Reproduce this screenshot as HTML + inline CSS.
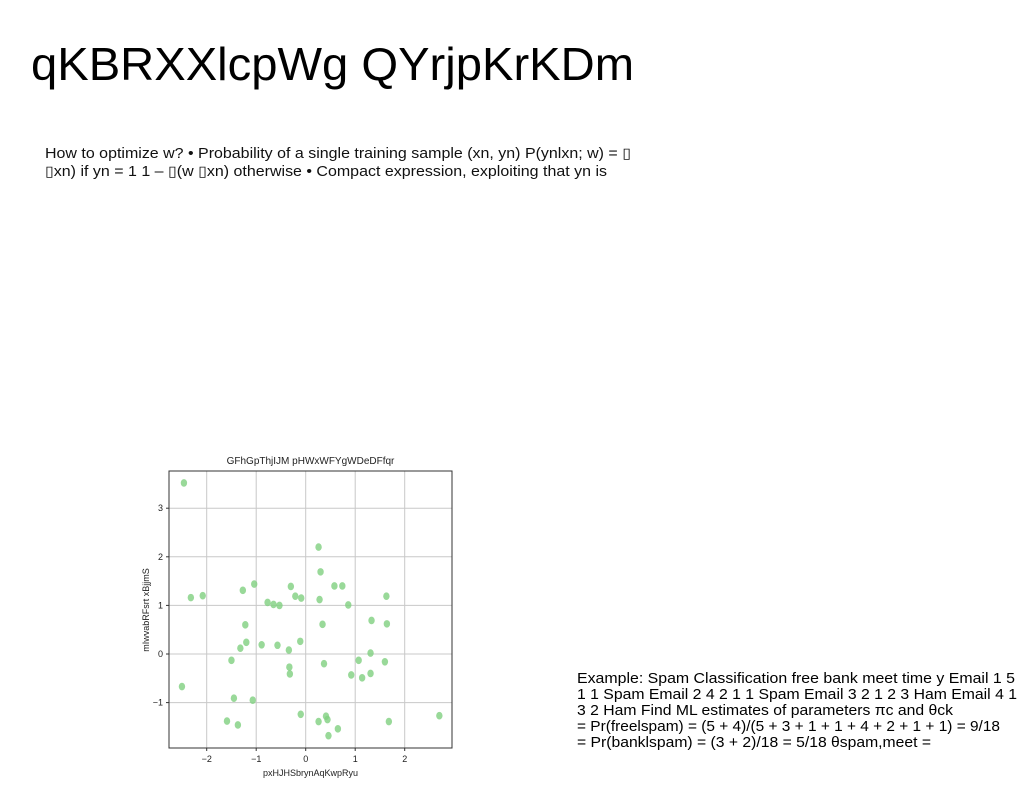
<!DOCTYPE html>
<html><head><meta charset="utf-8"><style>
html,body{margin:0;padding:0;background:#fff;}
svg{display:block;font-family:"Liberation Sans",sans-serif;}
</style></head><body>
<svg id="page" width="1024" height="788" viewBox="0 0 1024 788">
<text x="31" y="80" font-size="46" fill="#000" textLength="603" lengthAdjust="spacingAndGlyphs">qKBRXXlcpWg QYrjpKrKDm</text>
<g font-size="14.5" fill="#111">
<text x="45" y="158" textLength="586" lengthAdjust="spacingAndGlyphs">How to optimize w? • Probability of a single training sample (xn, yn) P(ynlxn; w) = ▯</text>
<text x="45" y="176" textLength="562" lengthAdjust="spacingAndGlyphs">▯xn) if yn = 1 1 – ▯(w ▯xn) otherwise • Compact expression, exploiting that yn is</text>
</g>
<g font-size="14.5" fill="#000">
<text x="577" y="683" textLength="438" lengthAdjust="spacingAndGlyphs">Example: Spam Classification free bank meet time y Email 1 5</text>
<text x="577" y="699" textLength="440" lengthAdjust="spacingAndGlyphs">1 1 Spam Email 2 4 2 1 1 Spam Email 3 2 1 2 3 Ham Email 4 1</text>
<text x="577" y="715" textLength="376" lengthAdjust="spacingAndGlyphs">3 2 Ham Find ML estimates of parameters πc and θck</text>
<text x="577" y="731" textLength="423" lengthAdjust="spacingAndGlyphs">= Pr(freelspam) = (5 + 4)/(5 + 3 + 1 + 1 + 4 + 2 + 1 + 1) = 9/18</text>
<text x="577" y="747" textLength="354" lengthAdjust="spacingAndGlyphs">= Pr(banklspam) = (3 + 2)/18 = 5/18 θspam,meet =</text>
</g>
<g id="chart"></g>
</svg>
<script>
const xs=[-2.46,-2.32,-2.08,-2.50,-1.27,-1.04,-1.22,-1.20,-1.32,-0.89,-1.50,-1.45,-1.07,-1.59,-1.37,-0.77,-0.65,-0.53,-0.30,-0.21,-0.09,-0.57,-0.34,-0.11,-0.33,-0.32,-0.10,0.26,0.30,0.28,0.58,0.74,0.86,0.34,0.37,0.26,0.41,0.44,0.46,0.65,0.92,1.07,1.14,1.31,1.31,1.33,1.63,1.64,1.60,1.68,2.70];
const ys=[3.52,1.16,1.20,-0.67,1.31,1.44,0.60,0.24,0.12,0.19,-0.13,-0.91,-0.95,-1.38,-1.46,1.06,1.02,1.00,1.39,1.19,1.15,0.18,0.08,0.26,-0.27,-0.41,-1.24,2.20,1.69,1.12,1.40,1.40,1.01,0.61,-0.20,-1.39,-1.28,-1.35,-1.68,-1.54,-0.43,-0.13,-0.49,0.02,-0.40,0.69,1.19,0.62,-0.16,-1.39,-1.27];
const xTicks=[-2,-1,0,1,2];
const yTicks=[-1,0,1,2,3];
const xTickLabels=["\u22122","\u22121","0","1","2"];
const yTickLabels=["\u22121","0","1","2","3"];
const NS="http://www.w3.org/2000/svg";
const g=document.getElementById('chart');
const L=169,R=452,T=471,B=748;
const sx=v=>305.7+v*49.5;
const sy=v=>654-v*48.6;
function mk(t,a){const e=document.createElementNS(NS,t);for(const k in a)e.setAttribute(k,a[k]);g.appendChild(e);return e;}
xTicks.forEach((v,i)=>{
 const l=mk('line',{x1:sx(v),x2:sx(v),y1:T,y2:B,stroke:'#c8c8c8','stroke-width':1});
 
 
 mk('line',{x1:sx(v),x2:sx(v),y1:B,y2:B+3,stroke:'#333'});
 const t=mk('text',{x:sx(v),y:B+14,'font-size':9,'text-anchor':'middle',fill:'#222'});
 t.textContent=xTickLabels[i];
 
 
});
yTicks.forEach((v,i)=>{
 const l=mk('line',{x1:L,x2:R,y1:sy(v),y2:sy(v),stroke:'#c8c8c8','stroke-width':1});
 
 
 mk('line',{x1:L-3,x2:L,y1:sy(v),y2:sy(v),stroke:'#333'});
 const t=mk('text',{x:L-6,y:sy(v)+3,'font-size':9,'text-anchor':'end',fill:'#222'});
 t.textContent=yTickLabels[i];
 
 
});
xs.forEach((x,i)=>{
 const c=mk('ellipse',{cx:sx(x),cy:sy(ys[i]),rx:3.2,ry:3.8,fill:'#7fcf7f','fill-opacity':0.8});
 
 
});
const f=mk('rect',{x:L,y:T,width:R-L,height:B-T,fill:'none',stroke:'#333','stroke-width':1});


const ti=mk('text',{x:(L+R)/2,y:464,'font-size':10,'text-anchor':'middle',fill:'#222'});
ti.textContent='GFhGpThjIJM pHWxWFYgWDeDFfqr';


const xl=mk('text',{x:(L+R)/2,y:776,'font-size':9,'text-anchor':'middle',fill:'#222'});
xl.textContent='pxHJHSbrynAqKwpRyu';


const yl=mk('text',{x:0,y:0,'font-size':9,'text-anchor':'middle',fill:'#222',transform:'translate(149,610) rotate(-90)'});
yl.textContent='mIwvabRFsrt xBjjmS';


</script>
</body></html>
